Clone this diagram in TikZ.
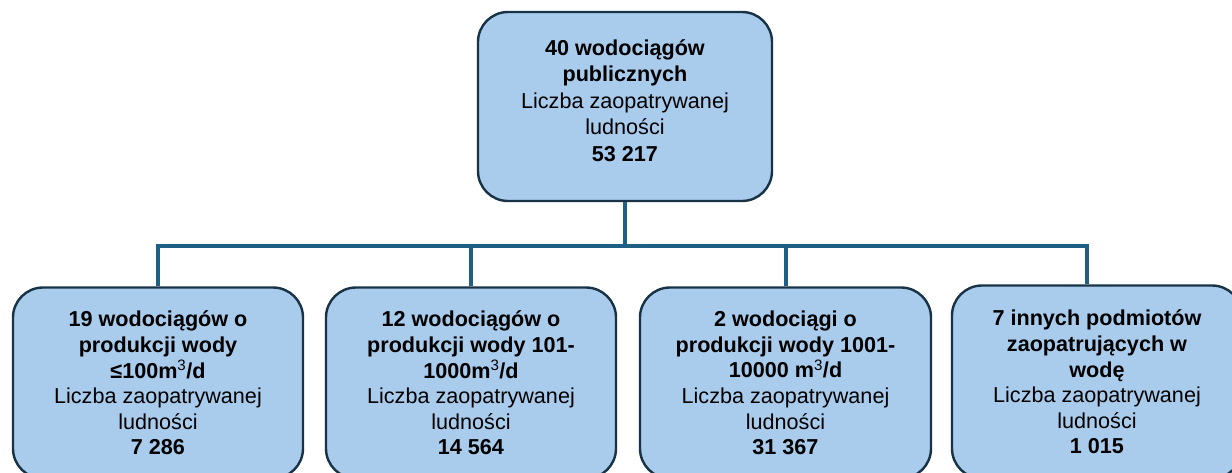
\documentclass[tikz,border=0pt]{standalone}
\usepackage{fontspec}
\setmainfont{Liberation Sans}
\usetikzlibrary{calc}
\definecolor{boxfill}{RGB}{169,203,236}
\definecolor{boxdraw}{RGB}{24,50,70}
\definecolor{linkcol}{RGB}{30,96,132}
\tikzset{
  orgbox/.style={draw=boxdraw, line width=2.4pt, fill=boxfill, rounded corners=30pt,
    align=center, inner sep=0pt, font=\fontsize{21.6}{25.6}\selectfont, text=black},
  link/.style={draw=linkcol, line width=4pt}
}
\begin{document}
\begin{tikzpicture}[x=1pt,y=-1pt]
\useasboundingbox (0,0) rectangle (1232,472);
\clip (0,0) rectangle (1232,472);
\node[orgbox, minimum width=294pt, minimum height=189pt, font=\fontsize{21.6}{26.4}\selectfont] (top) at (625,106.5)
  {\textbf{40 wodociągów}\\\textbf{publicznych}\\Liczba zaopatrywanej\\ludności\\\textbf{53 217}\\[-14pt]\mbox{}};
\node[orgbox, minimum width=290pt, minimum height=191pt] (b1) at (158,383)
  {\textbf{19 wodociągów o}\\\textbf{produkcji wody}\\\textbf{≤100m\textsuperscript{\mdseries 3}/d}\\Liczba zaopatrywanej\\ludności\\\textbf{7 286}};
\node[orgbox, minimum width=290pt, minimum height=191pt] (b2) at (471,383)
  {\textbf{12 wodociągów o}\\\textbf{produkcji wody 101-}\\\textbf{1000m\textsuperscript{\mdseries 3}/d}\\Liczba zaopatrywanej\\ludności\\\textbf{14 564}};
\node[orgbox, minimum width=291pt, minimum height=191pt] (b3) at (785.5,383)
  {\textbf{2 wodociągi o}\\\textbf{produkcji wody 1001-}\\\textbf{10000 m\textsuperscript{\mdseries 3}/d}\\Liczba zaopatrywanej\\ludności\\\textbf{31 367}};
\node[orgbox, minimum width=290pt, minimum height=193pt] (b4) at (1097,382)
  {\textbf{7 innych podmiotów}\\\textbf{zaopatrujących w}\\\textbf{wodę}\\Liczba zaopatrywanej\\ludności\\\textbf{1 015}};
\coordinate (bus) at (625,246);
\coordinate (d4) at ($(b4.north)+(-10,0)$);
\draw[link] (top.south) -- (bus);
\draw[link] (bus) -| (b1.north);
\draw[link] (bus) -| (b2.north);
\draw[link] (bus) -| (b3.north);
\draw[link] (bus) -| (d4);
\end{tikzpicture}
\end{document}
